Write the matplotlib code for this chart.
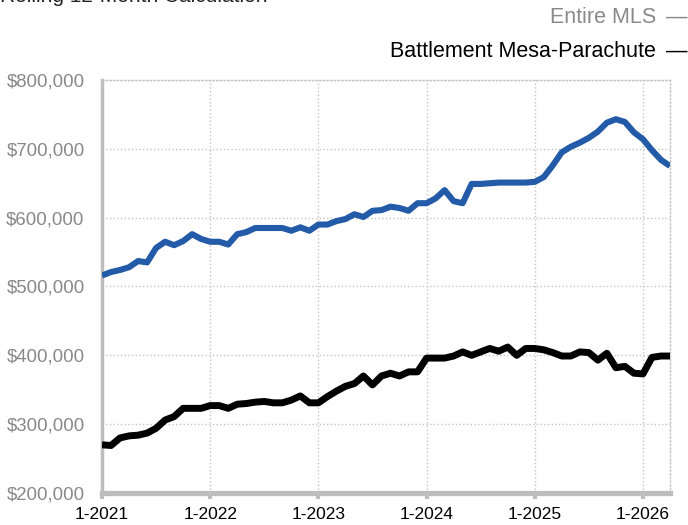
import matplotlib
matplotlib.use("Agg")
import matplotlib.pyplot as plt
import numpy as np

plt.rcParams['font.family'] = ['Liberation Sans', 'DejaVu Sans']

# Monthly values, 1-2021 .. 4-2026
entire_mls = [516, 521, 524, 528, 537, 535, 556, 565, 560, 566, 576, 569,
              565, 565, 561, 576, 579, 585, 585, 585, 585, 581, 586, 581,
              590, 590, 595, 598, 605, 601, 610, 611, 616, 614, 610, 621,
              621, 628, 640, 624, 621, 649, 649, 650, 651, 651, 651, 651,
              652, 659, 676, 695, 703, 709, 716, 725, 738, 743, 739, 724,
              714, 698, 684, 675]
battlement = [270, 269, 280, 283, 284, 287, 294, 306, 311, 323, 323, 323,
              327, 327, 323, 329, 330, 332, 333, 331, 331, 335, 341, 331,
              331, 340, 348, 355, 359, 370, 357, 370, 374, 370, 376, 376,
              396, 396, 396, 399, 405, 400, 405, 410, 406, 412, 400, 410,
              410, 408, 404, 399, 399, 405, 404, 393, 403, 382, 384, 374,
              373, 397, 399, 399]
entire_mls = [v * 1000 for v in entire_mls]
battlement = [v * 1000 for v in battlement]

x_tick_pos = [0, 12, 24, 36, 48, 60]
x_tick_labels = ["1-2021", "1-2022", "1-2023", "1-2024", "1-2025", "1-2026"]
y_ticks = [200000, 300000, 400000, 500000, 600000, 700000, 800000]

fig = plt.figure(figsize=(6.88, 5.25), dpi=100)
ax = fig.add_axes([102/688, 1-493/525, (670-102)/688, (493-80)/525])

x = np.arange(len(entire_mls))
ax.plot(x, entire_mls, color='#235BA8', lw=4.4, solid_joinstyle='round', solid_capstyle='butt', zorder=3)
ax.plot(x, battlement, color='#000000', lw=5.0, solid_joinstyle='round', solid_capstyle='butt', zorder=3)

ax.set_xlim(0, len(entire_mls) - 1)
ax.set_ylim(200000, 800000)
ax.set_yticks(y_ticks)
ax.set_yticklabels([f"${v:,.0f}" for v in y_ticks])
ax.set_xticks(x_tick_pos)
ax.set_xticklabels(x_tick_labels)

ax.grid(True, linestyle=':', color='#c4c4c4', linewidth=1.0, zorder=0)
ax.set_axisbelow(True)

for s in ['top', 'right']:
    ax.spines[s].set_linestyle(':')
    ax.spines[s].set_color('#c4c4c4')
    ax.spines[s].set_linewidth(1.0)
ax.spines['left'].set_color('#bdbdbd')
ax.spines['left'].set_linewidth(2.5)
ax.spines['bottom'].set_color('#bdbdbd')
ax.spines['bottom'].set_linewidth(3.8)

ax.tick_params(axis='y', length=0, pad=12.5, labelsize=13.4, labelcolor='#888888')
ax.tick_params(axis='x', length=4, width=3, color='#bdbdbd', pad=6, labelsize=12.5, labelcolor='#000000')

fig.text(0.0, 1 - 2/525, "Rolling 12-Month Calculation", ha='left', va='baseline',
         fontsize=15, color='#222222')
fig.text(656/688, 1 - 23/525, "Entire MLS", ha='right', va='baseline',
         fontsize=15.5, color='#8a8a8a')
fig.text(0.999, 1 - 23/525, "\u2014", ha='right', va='baseline',
         fontsize=15.5, color='#8a8a8a')
fig.text(656/688, 1 - 57/525, "Battlement Mesa-Parachute", ha='right', va='baseline',
         fontsize=15.5, color='#000000')
fig.text(0.999, 1 - 57/525, "\u2014", ha='right', va='baseline',
         fontsize=15.5, color='#000000')

fig.savefig("out.png", dpi=100)
